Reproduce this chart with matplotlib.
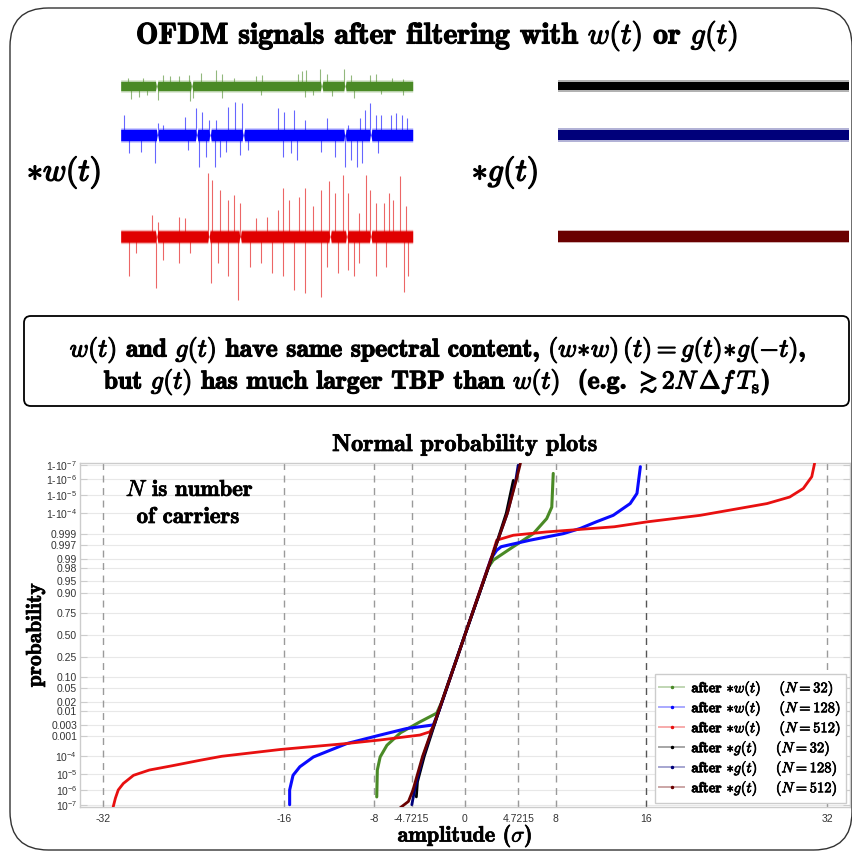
import math
import numpy as np
import matplotlib
matplotlib.use('Agg')
import matplotlib.pyplot as plt
from matplotlib.lines import Line2D
from matplotlib.patches import FancyBboxPatch
import matplotlib.patheffects as pe

plt.rcParams['mathtext.fontset'] = 'cm'
plt.rcParams['axes.unicode_minus'] = False

# ---------------- data: time-domain signals (amplitude in sigma) ----------------
# spikes: position along time axis (0..1) and signed amplitude (sigma)
w32_spike_t = [0.024, 0.075, 0.146, 0.168, 0.201, 0.235, 0.276, 0.328, 0.347, 0.388, 0.463, 0.485,
               0.608, 0.621, 0.634, 0.681, 0.705, 0.765, 0.789, 0.854, 0.873, 0.929, 0.966,
               0.034, 0.063, 0.090, 0.127, 0.239, 0.248, 0.347, 0.481, 0.631, 0.659, 0.724, 0.799,
               0.892, 0.966]
w32_spike_a = [4.0, 3.8, 5.4, 4.6, 4.8, 5.1, 6.3, 7.5, 5.9, 4.0, 4.6, 5.1,
               5.9, 7.0, 7.8, 8.3, 5.9, 8.3, 5.1, 5.1, 5.9, 3.8, 3.5,
               -6.0, -5.2, -4.4, -6.8, -7.3, -5.6, -5.7, -4.4, -5.2, -4.4, -4.9, -5.7,
               -3.7, -4.4]
w128_spike_t = [0.011, 0.127, 0.146, 0.220, 0.257, 0.280, 0.304, 0.328, 0.369, 0.392, 0.416, 0.537,
                0.560, 0.593, 0.631, 0.705, 0.780, 0.821, 0.836, 0.854, 0.873, 0.892, 0.925, 0.944,
                0.963, 0.981,
                0.028, 0.071, 0.118, 0.229, 0.267, 0.291, 0.323, 0.341, 0.360, 0.407, 0.435, 0.556,
                0.584, 0.603, 0.687, 0.733, 0.767, 0.789, 0.808, 0.826, 0.882]
w128_spike_a = [9.5, 5.6, 4.8, 8.7, 12.7, 11.1, 7.1, 7.1, 13.5, 15.9, 15.1, 12.7,
                11.1, 11.9, 7.1, 7.9, 4.8, 7.9, 11.9, 15.1, 9.5, 9.5, 9.5, 10.3,
                9.5, 7.9,
                -8.7, -7.9, -13.5, -7.1, -15.1, -10.3, -15.1, -10.3, -7.9, -9.5, -7.1, -10.3,
                -8.7, -11.9, -7.9, -10.3, -15.1, -11.9, -15.1, -13.5, -8.7]
w512_spike_t = [0.108, 0.127, 0.201, 0.220, 0.300, 0.313, 0.341, 0.369, 0.388, 0.407, 0.463, 0.500,
                0.537, 0.556, 0.575, 0.612, 0.631, 0.659, 0.687, 0.715, 0.733, 0.761, 0.780, 0.817,
                0.840, 0.854, 0.873, 0.901, 0.920, 0.933, 0.957, 0.976,
                0.028, 0.052, 0.121, 0.146, 0.201, 0.239, 0.308, 0.332, 0.369, 0.403, 0.444, 0.481,
                0.519, 0.556, 0.593, 0.631, 0.687, 0.705, 0.743, 0.780, 0.799, 0.817, 0.873, 0.910,
                0.970, 0.985]
w512_spike_a = [10.3, 7.1, 9.5, 8.7, 30.2, 27.0, 22.2, 17.5, 19.8, 15.9, 8.7, 9.5,
                12.7, 23.0, 17.5, 19.0, 23.0, 14.3, 22.2, 26.2, 20.6, 29.4, 20.6, 11.1,
                29.4, 22.2, 15.9, 15.9, 20.6, 17.5, 28.6, 14.3,
                -19.0, -7.9, -24.6, -11.1, -12.7, -7.9, -22.2, -12.7, -19.0, -30.2, -14.3, -12.7,
                -17.5, -19.0, -25.4, -27.0, -28.6, -14.3, -17.5, -15.9, -19.0, -12.7, -19.0, -14.3,
                -26.2, -19.0]
# dips of the dense noise band (time positions)
w32_notch_t = [0.123, 0.243, 0.688, 0.768]
w128_notch_t = [0.126, 0.260, 0.306, 0.420, 0.768, 0.856]
w512_notch_t = [0.123, 0.302, 0.409, 0.717, 0.774, 0.856]
# half-width of the dense noise band (sigma)
band_w = [2.5, 3.0, 3.0]
band_g = [2.4, 2.8, 2.9]

# ---------------- data: normal probability plots ----------------
prob_w32 = [3.5e-7, 1.74e-5, 9.2e-5, 3.6e-4, 1.35e-3, 3.79e-3, 8.2e-3, 0.02, 0.1, 0.5,
            0.9, 0.98, 0.9887, 0.99643, 0.999, 0.999807, 0.999952, 0.99999959]
amp_w32 = [-7.8, -7.75, -7.5, -6.9, -5.7, -4.0, -2.5, -2.05, -1.28, 0.0,
           1.28, 2.05, 2.5, 4.27, 6.04, 7.22, 7.67, 7.8]
prob_w128 = [1.0e-7, 1.02e-6, 8.5e-6, 2.67e-5, 9.2e-5, 4.34e-4, 1.07e-3, 2.05e-3, 2.89e-3,
             0.01, 0.1, 0.5, 0.9, 0.99, 0.99506, 0.99643, 0.99807, 0.999, 0.999423, 0.99972,
             0.999869, 0.9999696, 0.9999922, 0.99999986]
amp_w128 = [-15.5, -15.5, -15.2, -14.6, -13.4, -10.45, -7.5, -5.16, -2.8,
            -2.3, -1.28, 0.0, 1.28, 2.3, 2.8, 3.2, 5.75, 8.7, 10.2, 11.6,
            13.1, 14.6, 15.2, 15.5]
prob_w512 = [6.8e-8, 2.87e-7, 1.02e-6, 2.68e-6, 8.5e-6, 1.74e-5, 3.04e-5, 6.15e-5, 1.0e-4,
             2.24e-4, 4.34e-4, 6.41e-4, 1.07e-3, 1.49e-3, 3.0e-3, 0.01, 0.1, 0.5, 0.9, 0.99,
             0.99807, 0.99882, 0.99916, 0.99936, 0.999517, 0.99972, 0.999869, 0.9999696,
             0.9999872, 0.9999961, 0.99999932, 0.99999992]
amp_w512 = [-31.1, -30.9, -30.65, -30.2, -29.3, -27.9, -25.9, -23.4, -21.5,
            -16.3, -10.5, -7.5, -4.0, -3.1, -2.7, -2.3, -1.25, 0.0, 1.25, 2.3,
            2.8, 4.27, 7.2, 10.2, 13.2, 16.1, 20.8, 26.7,
            28.7, 29.9, 30.65, 30.9]
prob_g32 = [3.5e-7, 3.4e-6, 1.0e-4, 0.01, 0.5, 0.99, 0.9999, 0.99999882]
amp_g32 = [-4.3, -4.2, -3.6, -2.3, 0.0, 2.35, 3.65, 4.27]
prob_g128 = [1.0e-7, 1.02e-6, 1.0e-4, 0.01, 0.5, 0.99, 0.9999, 0.99999898, 0.99999989]
amp_g128 = [-4.7, -4.45, -3.7, -2.3, 0.0, 2.33, 3.75, 4.5, 4.7]
prob_g512 = [5.8e-8, 1.7e-7, 1.02e-6, 1.0e-4, 0.01, 0.5, 0.99, 0.9999, 0.99999898, 0.99999992]
amp_g512 = [-5.75, -5.0, -4.6, -3.75, -2.33, 0.0, 2.33, 3.75, 4.55, 4.9]

series_labels = [r'after $\ast w(t)\quad\;\,(N=32)$', r'after $\ast w(t)\quad\;\,(N=128)$',
                 r'after $\ast w(t)\quad\;\,(N=512)$', r'after $\ast g(t)\quad\;\,(N=32)$',
                 r'after $\ast g(t)\quad\;\,(N=128)$', r'after $\ast g(t)\quad\;\,(N=512)$']

y_tick_probs = [1e-7, 1e-6, 1e-5, 1e-4, 0.001, 0.003, 0.01, 0.02, 0.05, 0.10, 0.25, 0.50,
                0.75, 0.90, 0.95, 0.98, 0.99, 0.997, 0.999, 1 - 1e-4, 1 - 1e-5, 1 - 1e-6, 1 - 1e-7]
y_tick_labels = [r'$\mathregular{10^{-7}}$', r'$\mathregular{10^{-6}}$', r'$\mathregular{10^{-5}}$',
                 r'$\mathregular{10^{-4}}$', '0.001', '0.003', '0.01', '0.02', '0.05', '0.10',
                 '0.25', '0.50', '0.75', '0.90', '0.95', '0.98', '0.99', '0.997', '0.999',
                 r'1-$\mathregular{10^{-4}}$', r'1-$\mathregular{10^{-5}}$',
                 r'1-$\mathregular{10^{-6}}$', r'1-$\mathregular{10^{-7}}$']
x_ticks = [-32, -16, -8, -4.7215, 0, 4.7215, 8, 16, 32]
x_tick_labels = ['-32', '-16', '-8', '-4.7215', '0', '4.7215', '8', '16', '32']

# ---------------- helpers ----------------
def norm_ppf(p):
    if p > 0.5:
        return -norm_ppf(1.0 - p)
    lo, hi = -40.0, 0.0
    for _ in range(200):
        mid = 0.5 * (lo + hi)
        if 0.5 * math.erfc(-mid / math.sqrt(2.0)) < p:
            lo = mid
        else:
            hi = mid
    return 0.5 * (lo + hi)

def ppf(ps):
    return np.array([norm_ppf(p) for p in ps])

def bold(lw=0.7, color='black'):
    return [pe.withStroke(linewidth=lw, foreground=color)]

W, H = 853, 851
fig = plt.figure(figsize=(W / 100, H / 100), dpi=100)

def fx(px):
    return px / W

def fy(py):
    return 1 - py / H

# outer rounded frame
fig.patches.append(FancyBboxPatch((fx(10), fy(850)), fx(852) - fx(10), fy(8) - fy(850),
                                  boxstyle='round,pad=0,rounding_size=0.045',
                                  transform=fig.transFigure, fill=False,
                                  edgecolor='#333333', lw=1.0))

fig.text(fx(437), fy(36), r'OFDM signals after filtering with $w(t)$ or $g(t)$',
         ha='center', va='center', fontsize=21.5, family='cmb10', path_effects=bold(0.8))

# ---------------- signal panels ----------------
PX_PER_SIGMA = 2.1
top_px, bot_px = 60, 305

def sig_axes(left_px, right_px):
    a = fig.add_axes([fx(left_px), fy(bot_px), fx(right_px) - fx(left_px), fy(top_px) - fy(bot_px)])
    a.set_xlim(0, 1)
    a.set_ylim(-(bot_px - top_px) / PX_PER_SIGMA, 0)
    a.axis('off')
    return a

def draw_band(a, off, half, color, notches):
    t = [0.0]
    e = [half]
    for n in notches:
        t += [n - 0.004, n - 0.0015, n + 0.0015, n + 0.004]
        e += [half, 0.35, 0.35, half]
    t.append(1.0)
    e.append(half)
    t = np.array(t)
    e = np.array(e)
    a.fill_between(t, off - e - 0.4, off + e + 0.4, color=color, alpha=0.3, lw=0)
    a.fill_between(t, off - e + 0.3, off + e - 0.3, color=color, lw=0)

ax_w = sig_axes(120.7, 412.7)
ax_g = sig_axes(558, 849)
offs = [-(86 - top_px) / PX_PER_SIGMA, -(135 - top_px) / PX_PER_SIGMA, -(236.5 - top_px) / PX_PER_SIGMA]

w_cols = ['#4a8a26', '#0000ff', '#e00000']
g_cols = ['#000000', '#00007a', '#6a0000']
spk_t = [w32_spike_t, w128_spike_t, w512_spike_t]
spk_a = [w32_spike_a, w128_spike_a, w512_spike_a]
notch = [w32_notch_t, w128_notch_t, w512_notch_t]
for i in range(3):
    st = np.array(spk_t[i])
    sa = np.array(spk_a[i])
    ax_w.vlines(st, offs[i], offs[i] + sa, color=w_cols[i], lw=0.8, alpha=0.6)
    draw_band(ax_w, offs[i], band_w[i], w_cols[i], notch[i])
    draw_band(ax_g, offs[i], band_g[i], g_cols[i], [])

fig.text(fx(64), fy(173), r'$\ast w(t)$', ha='center', va='center', fontsize=23,
         path_effects=bold(1.0))
fig.text(fx(505), fy(173), r'$\ast g(t)$', ha='center', va='center', fontsize=23,
         path_effects=bold(1.0))

# ---------------- text box ----------------
fig.patches.append(FancyBboxPatch((fx(24), fy(406)), fx(849) - fx(24), fy(316) - fy(406),
                                  boxstyle='round,pad=0,rounding_size=0.008',
                                  transform=fig.transFigure, fill=False,
                                  edgecolor='black', lw=1.3))
fig.text(fx(438), fy(350),
         r'$w(t)$ and $g(t)$ have same spectral content, $(w\!\ast\! w)\,(t) = g(t)\!\ast\! g(-t)$,',
         ha='center', va='center', fontsize=18.5, family='cmb10', path_effects=bold(0.8))
fig.text(fx(437), fy(382),
         r'but $g(t)$ has much larger TBP than $w(t)$  (e.g. $\gtrsim 2N\,\Delta f\,T_{\mathrm{s}}$)',
         ha='center', va='center', fontsize=18.5, family='cmb10', path_effects=bold(0.8))

fig.text(fx(465), fy(445), 'Normal probability plots', ha='center', va='center',
         fontsize=17.5, family='cmb10', path_effects=bold(0.5))

# ---------------- normal probability plot ----------------
ax = fig.add_axes([fx(80), fy(807), fx(850) - fx(80), fy(463) - fy(807)])
ax.set_xlim(-34.03, 34.03)
ax.set_ylim(-5.27, 5.25)

ax.set_yticks(ppf(y_tick_probs))
ax.set_yticklabels(y_tick_labels, family='Liberation Sans', fontsize=7.5, color='#333333')
ax.set_xticks(x_ticks)
ax.set_xticklabels(x_tick_labels, family='Liberation Sans', fontsize=7.5, color='#333333')
ax.tick_params(axis='y', which='both', direction='in', left=True, right=True, length=5,
               color='#cccccc', pad=2)
ax.tick_params(axis='x', which='both', direction='in', bottom=True, top=False, length=4,
               color='#cccccc', pad=5)
ax.grid(axis='y', color='#e8e8e8', lw=0.8)
ax.set_axisbelow(True)
for s in ax.spines.values():
    s.set_color('#cccccc')
    s.set_linewidth(1.0)

for xv in x_ticks:
    c = '#555555' if xv == 16 else '#9a9a9a'
    ax.axvline(xv, color=c, lw=1.0, ls=(0, (5, 4)), zorder=1)

curve_p = [prob_w32, prob_w128, prob_w512, prob_g32, prob_g128, prob_g512]
curve_a = [amp_w32, amp_w128, amp_w512, amp_g32, amp_g128, amp_g512]
curve_c = ['#4a8a26', '#0a0aff', '#e81010', '#000000', '#00007a', '#6a0000']
curve_lw = [2.2, 2.2, 2.0, 2.0, 2.0, 2.0]
for p, a_, c, lw in zip(curve_p, curve_a, curve_c, curve_lw):
    ax.plot(a_, ppf(p), color=c, lw=lw, zorder=3, solid_capstyle='round')

def light(c, f=0.35):
    rgb = np.array(matplotlib.colors.to_rgb(c))
    return tuple(1 - f * (1 - rgb))

handles = [Line2D([], [], color=light(c), lw=1.4, marker='.', ms=3, mfc=c, mec=c)
           for c in curve_c]
leg = ax.legend(handles, series_labels, loc='lower right',
                prop={'family': 'cmb10', 'size': 10.5}, frameon=True, fancybox=False,
                edgecolor='#cccccc', framealpha=1, borderpad=0.3, labelspacing=0.0,
                handlelength=1.7, handletextpad=0.5, borderaxespad=0.3)
leg.get_frame().set_linewidth(1.0)
for t in leg.get_texts():
    t.set_path_effects(bold(0.5))

ax.set_xlabel(r'amplitude ($\sigma$)', family='cmb10', fontsize=16, labelpad=-1,
              path_effects=bold(0.5))
ax.set_ylabel('probability', family='cmb10', fontsize=15.5, labelpad=1, path_effects=bold(0.5))

fig.text(fx(190), fy(490), r'$N$ is number', ha='center', va='center', fontsize=16.5,
         family='cmb10', path_effects=bold(0.5))
fig.text(fx(188), fy(517), 'of carriers', ha='center', va='center', fontsize=16.5,
         family='cmb10', path_effects=bold(0.5))

fig.savefig('out.png', dpi=100)
